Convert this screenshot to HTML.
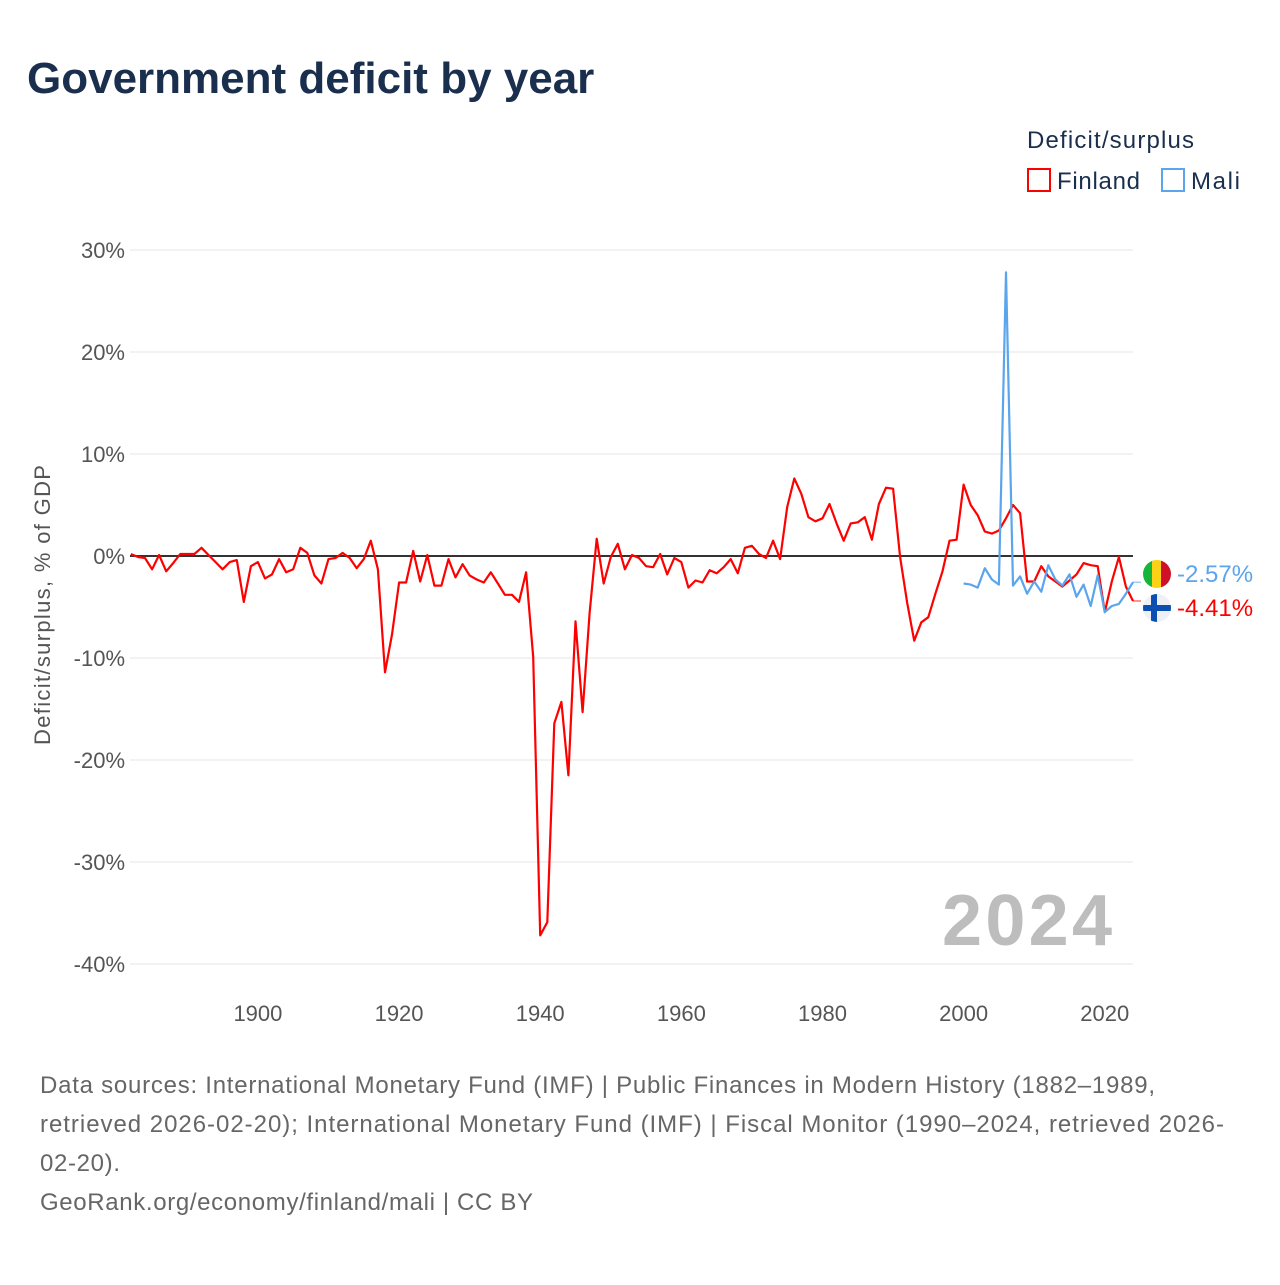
<!DOCTYPE html>
<html><head><meta charset="utf-8"><style>
body{margin:0;background:#fff;font-family:"Liberation Sans",sans-serif}
</style></head><body>
<svg id="chart" width="1280" height="1280" viewBox="0 0 1280 1280" xmlns="http://www.w3.org/2000/svg" font-family="Liberation Sans, sans-serif">
<rect width="1280" height="1280" fill="#fff"/>
<text x="27" y="93" font-size="44" font-weight="bold" fill="#1a2e4d">Government deficit by year</text>
<g>
<text x="1027" y="148" font-size="24" fill="#1a2e4d" textLength="167">Deficit/surplus</text>
<rect x="1028" y="169" width="22" height="22" fill="none" stroke="#ff0000" stroke-width="2"/>
<text x="1057" y="189" font-size="24" fill="#1a2e4d" textLength="83">Finland</text>
<rect x="1162" y="169" width="22" height="22" fill="none" stroke="#5aa5ec" stroke-width="2"/>
<text x="1191" y="189" font-size="24" fill="#1a2e4d" textLength="49">Mali</text>
</g>
<g id="grid"></g>
<g id="yticks"></g>
<g id="xticks"></g>
<text transform="translate(50,605) rotate(-90)" text-anchor="middle" font-size="22" fill="#555" textLength="280">Deficit/surplus, % of GDP</text>
<text x="1112" y="945" text-anchor="end" font-size="72" font-weight="bold" fill="#bdbdbd" textLength="170">2024</text>
<g id="series"></g>
<g>
<g>
<clipPath id="cm"><circle cx="1157" cy="574" r="14"/></clipPath>
<g clip-path="url(#cm)"><rect x="1143" y="560" width="10" height="28" fill="#14b53a"/><rect x="1152" y="560" width="10" height="28" fill="#fcd116"/><rect x="1161" y="560" width="10" height="28" fill="#ce1126"/></g>
</g>
<g>
<clipPath id="cf"><circle cx="1157" cy="608" r="14"/></clipPath>
<g clip-path="url(#cf)"><rect x="1143" y="594" width="28" height="28" fill="#eef0f4"/><rect x="1143" y="605" width="28" height="6" fill="#0b4fb0"/><rect x="1151" y="594" width="6" height="28" fill="#0b4fb0"/></g>
</g>
<text x="1177" y="582" font-size="24" fill="#5aa5ec">-2.57%</text>
<text x="1177" y="616" font-size="24" fill="#ff0000">-4.41%</text>
</g>
<g font-size="24" fill="#666">
<text x="40" y="1093" textLength="1115">Data sources: International Monetary Fund (IMF) | Public Finances in Modern History (1882–1989,</text>
<text x="40" y="1132" textLength="1184">retrieved 2026-02-20); International Monetary Fund (IMF) | Fiscal Monitor (1990–2024, retrieved 2026-</text>
<text x="40" y="1171" textLength="80">02-20).</text>
<text x="40" y="1210" textLength="493">GeoRank.org/economy/finland/mali | CC BY</text>
</g>
</svg>
<script>
const finlandStart = 1882;
const finlandValues = [0.2,-0.1,-0.2,-1.3,0.1,-1.5,-0.7,0.2,0.2,0.2,0.8,0.1,-0.6,-1.3,-0.6,-0.4,-4.5,-1.0,-0.6,-2.2,-1.8,-0.3,-1.6,-1.3,0.8,0.3,-1.9,-2.7,-0.3,-0.2,0.3,-0.2,-1.2,-0.3,1.5,-1.3,-11.4,-7.7,-2.6,-2.6,0.5,-2.5,0.1,-2.9,-2.9,-0.3,-2.1,-0.8,-1.9,-2.3,-2.6,-1.6,-2.7,-3.8,-3.8,-4.5,-1.6,-9.9,-37.2,-35.9,-16.4,-14.3,-21.5,-6.4,-15.3,-5.6,1.7,-2.7,-0.1,1.2,-1.3,0.1,-0.2,-1.0,-1.1,0.2,-1.8,-0.2,-0.6,-3.1,-2.4,-2.6,-1.4,-1.7,-1.1,-0.3,-1.7,0.8,1.0,0.2,-0.2,1.5,-0.3,4.8,7.6,6.1,3.8,3.4,3.7,5.1,3.2,1.5,3.2,3.3,3.8,1.6,5.1,6.7,6.6,-0.1,-4.6,-8.3,-6.5,-6.0,-3.7,-1.5,1.5,1.6,7.0,5.0,4.0,2.4,2.2,2.5,3.7,5.0,4.2,-2.5,-2.5,-1.0,-2.0,-2.5,-3.0,-2.4,-1.8,-0.7,-0.9,-1.0,-5.5,-2.5,-0.1,-3.0,-4.41];
const maliStart = 2000;
const maliValues = [-2.7,-2.8,-3.1,-1.2,-2.3,-2.8,27.8,-2.9,-2.0,-3.7,-2.5,-3.5,-0.9,-2.3,-2.9,-1.8,-4.0,-2.8,-4.9,-1.9,-5.5,-4.9,-4.7,-3.7,-2.57];
const yTicks = [30,20,10,0,-10,-20,-30,-40];
const xTicks = [1900,1920,1940,1960,1980,2000,2020];
const X0=130.9, X1=1133, Y0=556, PY=10.2;
const xs = y => X0 + (y-1882)*(X1-X0)/(2024-1882);
const ys = v => Y0 - v*PY;
const NS="http://www.w3.org/2000/svg";
function mk(tag, attrs, parent){const e=document.createElementNS(NS,tag);for(const k in attrs)e.setAttribute(k,attrs[k]);parent.appendChild(e);return e;}
const grid=document.getElementById('grid'), yt=document.getElementById('yticks'), xt=document.getElementById('xticks'), ser=document.getElementById('series');
yTicks.forEach(t=>{
  if(t!==0){const l=mk('line',{x1:130,x2:1133,y1:ys(t),y2:ys(t),stroke:'#e6e6e6','stroke-width':1},grid);
  
  }
  const tx=mk('text',{x:125,y:ys(t)+8,'text-anchor':'end','font-size':22,fill:'#555'},yt);
  tx.textContent=t+'%';
  
  
});
xTicks.forEach(t=>{
  const tx=mk('text',{x:xs(t),y:1021,'text-anchor':'middle','font-size':22,fill:'#555'},xt);
  tx.textContent=t;
  
  
});
const zl=mk('line',{x1:130,x2:1133,y1:Y0,y2:Y0,stroke:'#333','stroke-width':2},ser);


function drawSeries(start, vals, color, name){
  const pts=vals.map((v,i)=>xs(start+i).toFixed(1)+','+ys(v).toFixed(1)).join(' ');
  const p=mk('polyline',{points:pts,fill:'none',stroke:color,'stroke-width':2.2,'stroke-linejoin':'round'},ser);
  
  
  const last=vals[vals.length-1];
  const c=mk('line',{x1:xs(start+vals.length-1),x2:1141,y1:ys(last),y2:ys(last),stroke:color,'stroke-width':1.2,opacity:0.7},ser);
  
  
}
drawSeries(finlandStart, finlandValues, '#ff0000', 'finland-line');
drawSeries(maliStart, maliValues, '#5aa5ec', 'mali-line');
</script>
</body></html>
